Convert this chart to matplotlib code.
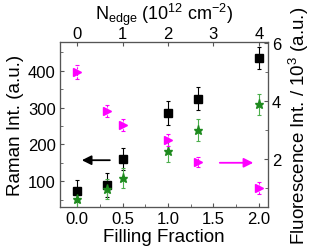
import matplotlib.pyplot as plt

plt.rcParams['font.family'] = ['Liberation Sans', 'DejaVu Sans']
plt.rcParams['mathtext.fontset'] = 'custom'
plt.rcParams['mathtext.rm'] = 'Liberation Sans'
plt.rcParams['mathtext.it'] = 'Liberation Sans'
plt.rcParams['mathtext.bf'] = 'Liberation Sans:bold'

# filling fraction positions
filling = [0.0, 1/3, 0.5, 1.0, 4/3, 2.0]

raman_black = [74, 90, 160, 285, 324, 434]
raman_black_err = [30, 32, 30, 32, 31, 30]

raman_green = [52, 79, 109, 181, 239, 309]
raman_green_err = [25, 28, 28, 30, 30, 28]

fluor = [5.02, 3.67, 3.18, 2.67, 1.89, 1.0]
fluor_err = [0.25, 0.2, 0.2, 0.2, 0.18, 0.2]

top_ticks = [0, 1, 2, 3, 4]

TICK_FS = 12
LABEL_FS = 13.5
tick_col = '#555555'

fig = plt.figure(figsize=(3.14, 2.53), dpi=100)
ax = fig.add_axes([0.191, 0.178, 0.662, 0.652])

ax.errorbar(filling, raman_black, yerr=raman_black_err, fmt='s', color='black',
            ms=5.5, capsize=1.5, elinewidth=0.8, capthick=0.8, zorder=3)
ax.errorbar(filling, raman_green, yerr=raman_green_err, fmt='*', color='#1e8a1e',
            ecolor='#4caf4c', ms=6.5, capsize=1.5, elinewidth=0.8, capthick=0.8, zorder=3)

ax.set_xlim(-0.19, 2.1)
ax.set_ylim(30, 478)
ax.set_xticks([0.0, 0.5, 1.0, 1.5, 2.0])
ax.set_xticklabels(['0.0', '0.5', '1.0', '1.5', '2.0'])
ax.set_yticks([100, 200, 300, 400])
ax.set_yticks([50, 150, 250, 350, 450], minor=True)
ax.set_xticks([0.25, 0.75, 1.25, 1.75], minor=True)
ax.set_xlabel('Filling Fraction', fontsize=LABEL_FS, labelpad=1)
ax.set_ylabel('Raman Int. (a.u.)', fontsize=LABEL_FS, labelpad=3)
ax.tick_params(direction='in', labelsize=TICK_FS, length=3, width=0.8, color=tick_col, pad=3)
ax.tick_params(which='minor', direction='in', length=2, color=tick_col)

# arrows
ax.annotate('', xy=(0.02, 157), xytext=(0.39, 157),
            arrowprops=dict(arrowstyle='-|>', color='black', lw=1.3, mutation_scale=14))
ax.annotate('', xy=(1.97, 150), xytext=(1.54, 150),
            arrowprops=dict(arrowstyle='-|>', color='magenta', lw=1.3, mutation_scale=14))

ax2 = ax.twinx()
eb = ax2.errorbar(filling, fluor, yerr=fluor_err, fmt='>', color='magenta',
                  ms=5.5, capsize=1.5, elinewidth=0.8, capthick=0.8, ls='none', zorder=3)
eb[2][0].set_linestyle((0, (2, 1)))
ax2.set_ylim(0.345, 6.05)
ax2.set_yticks([2, 4, 6])
ax2.set_yticks([1, 3, 5], minor=True)
ax2.set_ylabel('Fluorescence Int. / 10$^3$ (a.u.)', fontsize=LABEL_FS, labelpad=4)
ax2.tick_params(direction='in', labelsize=TICK_FS, length=3, width=0.8, color=tick_col, pad=3)
ax2.tick_params(which='minor', direction='in', length=2, color=tick_col)

ax3 = ax.twiny()
ax3.set_xlim(-0.19 * 2, 2.1 * 2)
ax3.set_xticks(top_ticks)
ax3.set_xlabel('N$_{edge}$ (10$^{12}$ cm$^{-2}$)', fontsize=13, labelpad=5)
ax3.tick_params(direction='in', labelsize=TICK_FS, length=3, width=0.8, color=tick_col, pad=1)

for a in (ax, ax2, ax3):
    for s in a.spines.values():
        s.set_color('#555555')
        s.set_linewidth(0.8)

fig.savefig('out.png', dpi=100)
